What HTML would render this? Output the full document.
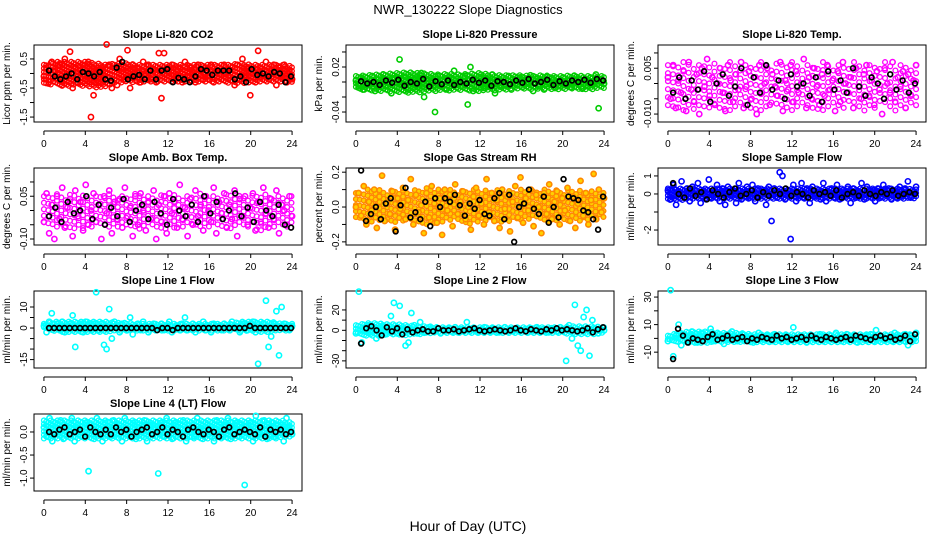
<!DOCTYPE html>
<html><head><meta charset="utf-8"><style>
body{margin:0;background:#fff;}
svg{display:block;font-family:"Liberation Sans",sans-serif;}
</style></head><body>
<svg id="chart" width="936" height="540" viewBox="0 0 936 540">
<rect x="0" y="0" width="936" height="540" fill="#fff"/>
<text x="468" y="14" text-anchor="middle" font-size="13">NWR_130222  Slope Diagnostics</text>
<text x="468" y="531" text-anchor="middle" font-size="14">Hour of Day (UTC)</text>
</svg>
<script>
// ---- data ----
const xTicks=[0,4,8,12,16,20,24];
const co2Main=[-0.1,0.2,-0.3,0.4,0.1,-0.2,0.3,-0.4,0.5,-0.1,0.75,-0.5,0.2,-0.3,0.1,0.3,-0.2,0.4,-1.5,-0.75,0.1,-0.3,0.2,-0.1,1.0,0.3,-0.5,0.2,-0.4,0.5,0.1,-0.2,0.8,-0.5,0.3,-0.1,0.2,-0.3,0.4,0.0,0.3,-0.2,0.1,-0.3,0.7,-0.85,0.7,0.2,-0.1,0.3,-0.2,0.1,0.2,-0.3,0.4,-0.1,0.2,0.0,-0.3,0.3,0.1,-0.2,0.2,-0.1,0.3,-0.3,0.1,0.2,-0.2,0.3,0.1,-0.1,0.2,-0.4,0.3,-0.2,0.5,-0.1,0.2,-0.75,0.1,-0.3,0.78,0.2,-0.1,0.4,-0.2,0.1,0.3,-0.4,0.2,-0.1,0.3,-0.3,0.1,-0.2];
const co2Ref=[0.1,-0.1,-0.2,-0.1,0.0,-0.2,0.05,0.0,-0.1,0.05,-0.2,-0.25,0.2,0.4,-0.2,-0.1,-0.05,-0.2,0.1,-0.2,0.1,0.15,-0.3,-0.15,-0.2,-0.3,-0.1,0.15,0.1,-0.05,0.1,0.1,0.1,-0.2,-0.1,-0.3,0.15,-0.05,0.0,-0.1,0.05,0.0,-0.3,-0.1];
const co2BandLo=[-0.35,-0.4,-0.45,-0.4,-0.45,-0.5,-0.45,-0.35,-0.3,-0.35,-0.3,-0.3,-0.3,-0.3,-0.3,-0.3,-0.3,-0.3,-0.35,-0.35,-0.3,-0.3,-0.3,-0.3,-0.3];
const co2BandHi=[0.3,0.4,0.4,0.4,0.4,0.35,0.3,0.35,0.35,0.3,0.3,0.3,0.3,0.3,0.3,0.3,0.3,0.3,0.3,0.35,0.3,0.3,0.3,0.3,0.25];
const pressMain=[0.002,-0.005,0.006,-0.01,0.001,-0.003,0.008,-0.012,0.004,-0.002,0.01,-0.006,0.003,-0.015,0.005,0.0,0.03,-0.004,0.007,-0.01,0.002,-0.008,0.006,-0.003,0.012,-0.02,0.004,-0.006,0.001,-0.04,0.008,-0.004,0.003,-0.01,0.006,-0.002,0.015,-0.007,0.002,-0.005,0.008,-0.03,0.02,-0.012,0.004,-0.002,0.006,-0.008,0.003,-0.005,0.01,-0.015,0.002,-0.006,0.005,-0.003,0.008,-0.01,0.001,-0.004,0.006,-0.007,0.003,-0.002,0.009,-0.012,0.004,-0.006,0.002,-0.01,0.007,-0.003,0.005,-0.008,0.001,-0.005,0.006,-0.004,0.003,-0.007,0.008,-0.002,0.004,-0.009,0.002,-0.005,0.006,-0.003,0.01,-0.035,0.004,-0.002];
const pressRef=[0.001,-0.002,0.0,-0.004,0.002,-0.001,0.003,-0.005,0.0,-0.002,0.004,-0.006,0.001,-0.003,0.002,-0.004,0.0,-0.002,0.003,-0.001,0.002,-0.005,0.001,0.0,-0.003,0.002,-0.001,0.004,-0.002,0.0,0.003,-0.004,0.001,-0.002,0.002,0.0,0.003,-0.001,0.004,0.002];
const pressBandLo=[-0.01,-0.011,-0.012,-0.013,-0.014,-0.015,-0.014,-0.013,-0.012,-0.012,-0.011,-0.012,-0.013,-0.012,-0.011,-0.01,-0.01,-0.011,-0.01,-0.01,-0.011,-0.01,-0.01,-0.01,-0.009];
const pressBandHi=[0.008,0.009,0.01,0.011,0.012,0.013,0.012,0.011,0.01,0.011,0.01,0.011,0.012,0.01,0.009,0.009,0.009,0.008,0.009,0.008,0.008,0.009,0.008,0.008,0.008];
const tempMain=[0.002,-0.005,0.006,-0.008,0.001,-0.003,0.004,-0.009,0.007,-0.002,-0.006,0.003,-0.01,0.005,-0.001,0.008,-0.004,0.002,-0.007,0.0,0.005,-0.003,-0.009,0.006,0.001,-0.006,0.003,-0.002,0.007,-0.008,-0.001,0.004,-0.005,0.002,-0.01,0.006,-0.003,0.0,0.005,-0.007,0.003,-0.001,-0.004,0.007,-0.009,0.001,-0.002,0.006,-0.006,0.004,-0.003,0.0,0.008,-0.008,0.002,-0.005,0.005,-0.001,-0.007,0.003,-0.004,0.006,-0.002,0.001,-0.009,0.004,-0.006,0.007,0.0,-0.003,0.002,-0.008,0.005,-0.001,-0.005,0.003,0.006,-0.004,0.001,-0.007,0.004,-0.002,-0.01,0.005,0.0,-0.003,0.007,-0.006,0.002,-0.001,0.004,-0.008,0.003,-0.004,0.001,0.006];
const tempRef=[-0.003,0.002,-0.005,0.001,-0.002,0.004,-0.006,0.0,0.003,-0.004,-0.001,0.005,-0.007,0.002,-0.003,0.006,-0.002,0.001,-0.005,0.003,-0.001,0.0,-0.004,0.002,-0.006,0.004,-0.002,0.001,-0.003,0.005,-0.001,-0.004,0.002,0.0,-0.005,0.003,-0.002,0.001,-0.003,0.0];
const tempBandLo=[-0.008,-0.009,-0.009,-0.008,-0.009,-0.008,-0.009,-0.008,-0.008,-0.009,-0.008,-0.008,-0.009,-0.008,-0.008,-0.009,-0.008,-0.008,-0.008,-0.009,-0.008,-0.008,-0.009,-0.008,-0.008];
const tempBandHi=[0.006,0.007,0.007,0.006,0.007,0.006,0.007,0.006,0.006,0.007,0.006,0.007,0.007,0.006,0.006,0.007,0.006,0.006,0.007,0.006,0.006,0.007,0.006,0.006,0.006];
const boxMain=[-0.04,0.06,-0.08,0.02,-0.1,0.05,-0.03,0.08,-0.06,0.01,0.04,-0.09,0.07,-0.02,0.03,-0.07,0.09,-0.05,0.0,0.06,-0.04,0.02,-0.1,0.05,-0.01,0.07,-0.08,0.03,-0.03,0.04,-0.06,0.08,-0.02,0.01,-0.09,0.05,-0.05,0.06,0.0,-0.07,0.03,-0.03,0.07,-0.1,0.02,-0.04,0.05,-0.08,0.06,-0.01,0.03,-0.06,0.09,-0.03,0.01,-0.09,0.04,-0.05,0.07,-0.02,0.02,-0.07,0.05,0.0,-0.04,0.08,-0.08,0.03,-0.01,0.06,-0.06,0.02,-0.03,0.07,-0.09,0.04,-0.02,0.05,-0.05,0.01,0.06,-0.07,0.03,-0.04,0.08,-0.01,-0.06,0.04,-0.03,0.07,-0.08,0.02,0.0,-0.05,0.05,-0.02];
const boxRef=[-0.02,0.01,-0.04,0.03,-0.01,0.0,0.05,-0.03,0.02,-0.05,0.01,-0.02,0.04,-0.04,0.0,0.02,-0.03,0.03,-0.01,-0.05,0.04,0.0,-0.02,0.02,-0.04,0.05,-0.01,0.03,-0.03,0.0,0.06,-0.02,0.01,-0.04,0.03,0.0,-0.02,0.02,-0.05,-0.06];
const boxBandLo=[-0.06,-0.07,-0.06,-0.07,-0.06,-0.06,-0.07,-0.06,-0.06,-0.07,-0.06,-0.06,-0.07,-0.06,-0.06,-0.07,-0.06,-0.06,-0.07,-0.06,-0.06,-0.07,-0.06,-0.06,-0.06];
const boxBandHi=[0.05,0.06,0.05,0.06,0.05,0.05,0.06,0.05,0.05,0.06,0.05,0.05,0.06,0.05,0.05,0.06,0.05,0.05,0.06,0.05,0.05,0.06,0.05,0.05,0.05];
const rhMain=[0.0,0.08,-0.05,0.12,-0.1,0.03,-0.02,0.1,-0.12,0.06,0.18,-0.08,0.02,-0.04,0.09,-0.13,0.05,-0.01,0.11,-0.07,0.04,0.16,-0.1,0.07,-0.03,0.01,-0.15,0.08,-0.06,0.12,0.02,-0.09,0.05,-0.16,0.1,-0.02,0.07,-0.11,0.13,-0.04,0.03,0.09,-0.07,0.0,-0.13,0.06,0.11,-0.05,0.02,-0.1,0.16,-0.03,0.08,-0.08,0.04,-0.12,0.1,-0.01,0.06,-0.14,0.03,0.12,-0.06,0.17,-0.09,0.05,-0.02,0.1,-0.11,0.07,0.0,-0.15,0.08,-0.04,0.13,-0.07,0.03,0.09,-0.1,0.05,-0.02,0.11,-0.08,0.06,-0.12,0.02,0.15,-0.05,0.08,-0.1,0.04,0.19,-0.07,0.1,-0.03,0.05];
const rhRef=[0.21,-0.08,-0.04,0.0,-0.07,0.02,0.05,-0.14,0.01,0.11,-0.06,-0.03,-0.07,0.03,-0.11,0.05,0.0,0.05,0.03,0.07,0.01,-0.05,0.02,-0.01,0.04,-0.04,-0.05,0.05,0.08,-0.07,0.07,-0.2,0.0,0.02,0.1,-0.01,-0.04,0.06,-0.09,0.0,-0.06,0.16,0.06,0.05,0.04,-0.02,-0.03,-0.07,-0.13,0.06];
const rhBandLo=[-0.06,-0.08,-0.09,-0.08,-0.09,-0.08,-0.09,-0.1,-0.09,-0.08,-0.09,-0.1,-0.09,-0.08,-0.09,-0.08,-0.09,-0.08,-0.08,-0.09,-0.08,-0.08,-0.09,-0.08,-0.06];
const rhBandHi=[0.08,0.1,0.1,0.09,0.1,0.09,0.1,0.11,0.1,0.1,0.09,0.1,0.1,0.09,0.1,0.09,0.1,0.09,0.1,0.1,0.09,0.1,0.09,0.09,0.08];
const flowMain=[0.2,-0.3,0.5,-0.6,0.1,0.7,-0.2,0.3,-0.4,0.4,-0.1,0.6,-0.5,0.2,-0.3,0.8,-0.2,0.1,0.5,-0.4,0.3,-0.6,0.4,-0.1,0.2,-0.5,0.6,-0.3,0.1,0.4,-0.2,0.5,-0.4,0.3,-0.1,0.2,-0.6,0.4,-1.5,0.3,-0.2,1.2,1.0,-0.3,0.2,-2.5,0.5,-0.4,0.1,0.6,-0.2,0.3,-0.5,0.4,-0.1,0.2,-0.3,0.6,-0.4,0.1,0.3,-0.2,0.5,-0.3,0.2,-0.1,0.4,-0.5,0.3,-0.2,0.1,0.6,-0.3,0.4,-0.1,0.2,-0.4,0.3,-0.2,0.5,-0.1,0.3,-0.3,0.2,-0.2,0.4,-0.1,0.3,0.7,-0.2,0.1,0.4];
const flowRef=[0.6,0.0,-0.2,0.3,-0.1,0.1,-0.3,0.2,0.0,-0.2,0.1,0.3,-0.1,0.0,0.2,-0.2,0.1,-0.1,0.2,0.0,0.3,-0.1,0.1,0.0,-0.2,0.2,0.0,0.1,-0.1,0.2,-0.2,0.0,0.1,-0.1,0.2,0.0,-0.1,0.1,0.0,0.2,-0.1,0.0,0.1,0.0];
const flowBandLo=[-0.35,-0.35,-0.3,-0.3,-0.3,-0.3,-0.3,-0.3,-0.3,-0.3,-0.3,-0.3,-0.3,-0.3,-0.3,-0.3,-0.3,-0.3,-0.3,-0.3,-0.3,-0.3,-0.3,-0.3,-0.25];
const flowBandHi=[0.3,0.3,0.3,0.3,0.3,0.3,0.3,0.3,0.3,0.3,0.3,0.3,0.3,0.3,0.3,0.3,0.3,0.3,0.3,0.3,0.3,0.3,0.3,0.3,0.25];
const l1Main=[1,-2,3,7,0,2,-1,3,-2,1,2,6,-9,0,2,-2,3,1,-1,2,17,-1,2,-8,-10,9,-5,3,1,-2,2,0,-1,5,-3,1,2,-1,3,0,-2,1,2,-1,0,2,-1,1,3,-2,0,1,-1,2,5,-1,0,2,-2,1,0,3,-1,1,-2,2,0,1,-1,2,0,-1,3,1,0,-2,2,1,-1,0,3,-2,-17,1,2,13,-9,-4,2,8,-13,10,2,0,-1,1];
const l1Ref=[0,0,0,0,0,0,0,0,0,0,0,0,0,0,0,0,0,0,0,0,0,-1,0,0,-1,0,0,0,0,0,0,0,0,0,0,0,0,0,0,1,0,0,0,0,0,0,0,0];
const l1BandLo=[-1,-1.5,-2,-2,-2,-2,-2,-1.5,-1.5,-1.5,-1.5,-1.5,-1.5,-1.5,-1.5,-1.5,-1.5,-1.5,-1.5,-1.5,-1.5,-2,-2,-1.5,-1];
const l1BandHi=[2,3,3,3,3,3,3,2.5,2.5,2,2,2,2,2,2,2,2,2,2,3,3,3,3,2,2];
const l2Main=[-3,38,-12,2,5,-2,3,-8,1,4,-4,2,14,27,-3,24,1,-15,-12,17,5,-3,8,1,-2,3,0,-1,2,-3,1,0,2,-1,3,-2,1,0,8,-1,2,0,-2,1,3,0,-1,2,1,-2,0,3,-1,1,0,2,-1,0,1,-2,2,0,3,-1,1,0,-2,2,1,-1,3,0,-30,5,-8,25,-15,-20,13,20,-25,10,2,-3,1,0];
const l2Ref=[-13,2,4,0,-5,3,-1,2,-4,1,-2,0,1,-1,-1,2,0,0,1,-1,0,1,2,0,-1,0,1,0,-1,0,2,0,-1,1,0,-1,1,0,2,0,1,0,-1,0,2,-2,1,3];
const l2BandLo=[-5,-6,-6,-5,-5,-5,-4,-3,-3,-3,-3,-3,-3,-3,-3,-3,-3,-3,-3,-3,-3,-4,-4,-4,-3];
const l2BandHi=[5,7,7,6,6,5,4,4,3,3,3,3,3,3,3,3,3,3,3,3,3,4,4,4,3];
const l3Main=[-2,35,-13,2,10,-5,3,0,-2,5,1,-3,2,4,0,-1,7,-2,1,3,0,-4,2,-1,5,0,-2,1,3,-1,0,2,-3,1,4,0,-1,2,0,-2,3,1,-1,0,2,-2,1,8,0,-1,2,0,-3,1,2,-1,0,3,-2,1,0,2,-1,4,0,-2,1,3,-1,0,2,-3,1,0,2,-1,3,-2,6,0,1,-1,2,0,-2,4,1,-1,0,3,-5,2,0,4];
const l3Ref=[-15,7,2,-3,0,-1,-2,1,3,-1,0,2,-1,0,1,-2,0,-1,1,0,-1,2,0,1,-1,0,1,-1,2,0,-1,1,0,-1,0,1,-1,2,1,0,-1,1,2,0,1,-1,0,2,-2,3];
const l3BandLo=[-2,-3,-4,-4,-4,-3,-3,-3,-3,-3,-3,-3,-3,-3,-3,-3,-3,-3,-3,-3,-3,-3,-3,-3,-3];
const l3BandHi=[2,4,5,5,5,4,4,4,3,3,3,3,3,3,3,3,3,3,3,3,3,3,3,3,3];
const l4Main=[0.1,-0.1,0.3,-0.2,0.2,0.0,0.25,-0.15,0.1,-0.05,0.3,-0.2,0.15,0.05,-0.1,0.2,-0.85,0.1,-0.15,0.3,0.0,-0.2,0.2,0.1,-0.1,0.25,-0.05,0.15,-0.2,0.3,0.05,-0.1,0.2,-0.15,0.1,0.0,0.25,-0.2,0.15,-0.05,0.1,-0.9,0.2,-0.1,0.3,0.0,-0.15,0.2,0.1,-0.05,0.25,-0.2,0.15,0.0,-0.1,0.3,0.05,-0.15,0.2,-0.05,0.1,-0.2,0.25,0.0,-0.1,0.15,0.3,-0.15,0.05,0.2,-0.1,0.1,-1.15,0.0,0.2,-0.2,0.35,-0.05,0.1,0.25,-0.15,0.05,0.2,-0.1,0.15,0.0,-0.2,0.3,0.1,-0.05];
const l4Ref=[0.0,-0.05,0.05,0.1,-0.05,0.0,0.05,-0.1,0.1,0.0,-0.05,0.05,-0.05,0.1,0.0,0.05,-0.1,0.0,0.05,0.1,-0.05,0.0,0.1,-0.05,0.05,0.0,-0.1,0.05,0.1,0.0,-0.05,0.05,0.0,-0.1,0.05,0.1,-0.05,0.0,0.05,0.0,-0.05,0.1,-0.1,0.05,0.0,0.05,-0.05,0.0];
const l4BandLo=[-0.15,-0.15,-0.15,-0.15,-0.15,-0.15,-0.15,-0.15,-0.15,-0.15,-0.15,-0.15,-0.15,-0.15,-0.15,-0.15,-0.15,-0.15,-0.15,-0.15,-0.15,-0.15,-0.15,-0.15,-0.1];
const l4BandHi=[0.25,0.25,0.25,0.25,0.25,0.25,0.25,0.25,0.25,0.25,0.25,0.25,0.25,0.25,0.25,0.25,0.25,0.25,0.25,0.25,0.25,0.25,0.25,0.25,0.2];
// ---- panel layout ----
const panels=[
 {name:'co2',title:'Slope Li-820 CO2',ylab:'Licor ppm per min.',c:0,r:0,y0:-1.67,y1:0.98,ticks:[0.5,0,-0.5,-1,-1.5],labs:['0.5','','-0.5','','-1.5'],main:co2Main,ref:co2Ref,lo:co2BandLo,hi:co2BandHi,st:'#ff0000',fl:'none',dy:3.6,dx:0.22},
 {name:'pressure',title:'Slope Li-820 Pressure',ylab:'kPa per min.',c:1,r:0,y0:-0.0533,y1:0.0493,ticks:[0.04,0.02,0,-0.02,-0.04],labs:['','0.02','','','-0.04'],main:pressMain,ref:pressRef,lo:pressBandLo,hi:pressBandHi,st:'#00cc00',fl:'none',dy:3.6,dx:0.22},
 {name:'temp',title:'Slope Li-820 Temp.',ylab:'degrees C per min.',c:2,r:0,y0:-0.0126,y1:0.0126,ticks:[0.01,0.005,0,-0.005,-0.01],labs:['','0.005','','','-0.010'],main:tempMain,ref:tempRef,lo:tempBandLo,hi:tempBandHi,st:'#ff00ff',fl:'none',dy:8,dx:0.5},
 {name:'box-temp',title:'Slope Amb. Box Temp.',ylab:'degrees C per min.',c:0,r:1,y0:-0.121,y1:0.149,ticks:[0.1,0.05,0,-0.05,-0.1],labs:['','0.05','','','-0.10'],main:boxMain,ref:boxRef,lo:boxBandLo,hi:boxBandHi,st:'#ff00ff',fl:'none',dy:6.5,dx:0.42},
 {name:'rh',title:'Slope Gas Stream RH',ylab:'percent per min.',c:1,r:1,y0:-0.218,y1:0.224,ticks:[0.2,0.1,0,-0.1,-0.2],labs:['0.2','','0.0','','-0.2'],main:rhMain,ref:rhRef,lo:rhBandLo,hi:rhBandHi,st:'#ff8800',fl:'#ffd000',dy:6,dx:0.38},
 {name:'sample-flow',title:'Slope Sample Flow',ylab:'ml/min per min.',c:2,r:1,y0:-2.83,y1:1.44,ticks:[1,0,-1,-2],labs:['1','0','','-2'],main:flowMain,ref:flowRef,lo:flowBandLo,hi:flowBandHi,st:'#0000ff',fl:'none',dy:3.4,dx:0.2},
 {name:'line1-flow',title:'Slope Line 1 Flow',ylab:'ml/min per min.',c:0,r:2,y0:-19,y1:17.6,ticks:[10,5,0,-5,-10,-15],labs:['10','','0','','','-15'],main:l1Main,ref:l1Ref,lo:l1BandLo,hi:l1BandHi,st:'#00ffff',fl:'none',dy:3.4,dx:0.2},
 {name:'line2-flow',title:'Slope Line 2 Flow',ylab:'ml/min per min.',c:1,r:2,y0:-37,y1:38.6,ticks:[20,10,0,-10,-20,-30],labs:['20','','0','','','-30'],main:l2Main,ref:l2Ref,lo:l2BandLo,hi:l2BandHi,st:'#00ffff',fl:'none',dy:3.4,dx:0.2},
 {name:'line3-flow',title:'Slope Line 3 Flow',ylab:'ml/min per min.',c:2,r:2,y0:-21.5,y1:34.4,ticks:[30,20,10,0,-10],labs:['30','','10','','-10'],main:l3Main,ref:l3Ref,lo:l3BandLo,hi:l3BandHi,st:'#00ffff',fl:'none',dy:3.4,dx:0.2},
 {name:'line4-flow',title:'Slope Line 4 (LT) Flow',ylab:'ml/min per min.',c:0,r:3,y0:-1.28,y1:0.39,ticks:[0,-0.5,-1],labs:['0.0','-0.5','-1.0'],main:l4Main,ref:l4Ref,lo:l4BandLo,hi:l4BandHi,st:'#00ffff',fl:'none',dy:3.6,dx:0.22}
];
const NS='http://www.w3.org/2000/svg';
const svg=document.getElementById('chart');
function mk(tag,attrs,parent){const e=document.createElementNS(NS,tag);for(const k in attrs)e.setAttribute(k,attrs[k]);(parent||svg).appendChild(e);return e;}
panels.forEach(p=>{
  const L=34+312*p.c, W=268, T=45+123*p.r, H=77;
  const xs=h=>L+(h+0.96)/25.92*W;
  const ys=v=>T+(p.y1-v)/(p.y1-p.y0)*H;
  const g=mk('g',{});
  
  
  const t=mk('text',{x:L+W/2,y:T-7,'text-anchor':'middle','font-size':11,'font-weight':'bold'},g);
  t.textContent=p.title;
  
  
  const yl=mk('text',{x:0,y:0,'text-anchor':'middle','font-size':10,transform:`translate(${L-24},${T+H/2}) rotate(-90)`},g);
  yl.textContent=p.ylab;
  
  
  const box=mk('rect',{x:L,y:T,width:W,height:H,fill:'none',stroke:'#000','stroke-width':1},g);
  
  
  p.ticks.forEach((v,i)=>{
    const y=ys(v);
    const tk=mk('line',{x1:L-4,x2:L,y1:y,y2:y,stroke:'#000'},g);
    
    
    if(p.labs[i]){const tl=mk('text',{x:0,y:0,'text-anchor':'middle','font-size':10,transform:`translate(${L-7},${y}) rotate(-90)`},g);
      tl.textContent=p.labs[i];
      
      }
  });
  const ay=T+H+9;
  const ax=mk('line',{x1:xs(0),x2:xs(24),y1:ay,y2:ay,stroke:'#000'},g);
  
  
  xTicks.forEach(h=>{
    const tk=mk('line',{x1:xs(h),x2:xs(h),y1:ay,y2:ay+4,stroke:'#000'},g);
    
    
    const tl=mk('text',{x:xs(h),y:ay+16,'text-anchor':'middle','font-size':10},g);
    tl.textContent=h;
    
    
  });
  // band of points (per-hour lower/upper envelope)
  let k=0;
  for(let h=0;h<=24.001;h+=p.dx){
    const i0=Math.min(23,Math.floor(h)), f=h-i0;
    const lo=p.lo[i0]*(1-f)+p.lo[i0+1]*f, hi=p.hi[i0]*(1-f)+p.hi[i0+1]*f;
    const yTop=ys(hi), yBot=ys(lo);
    const off=(k%3)*p.dy/3;
    for(let y=yTop+off;y<=yBot;y+=p.dy){
      const c=mk('circle',{cx:xs(h),cy:y,r:2.4,fill:p.fl,stroke:p.st,'stroke-width':1.3},g);
      
      
    }
    k++;
  }
  const n=p.main.length;
  p.main.forEach((v,i)=>{
    const h=i*24/(n-1);
    const c=mk('circle',{cx:xs(h),cy:ys(v),r:2.6,fill:p.fl,stroke:p.st,'stroke-width':1.6},g);
    
    
  });
  const m=p.ref.length;
  p.ref.forEach((v,i)=>{
    const h=0.5+i*23.4/(m-1);
    const c=mk('circle',{cx:xs(h),cy:ys(v),r:2.4,fill:'none',stroke:'#000','stroke-width':1.7},g);
    
    
  });
});
</script>
</body></html>
